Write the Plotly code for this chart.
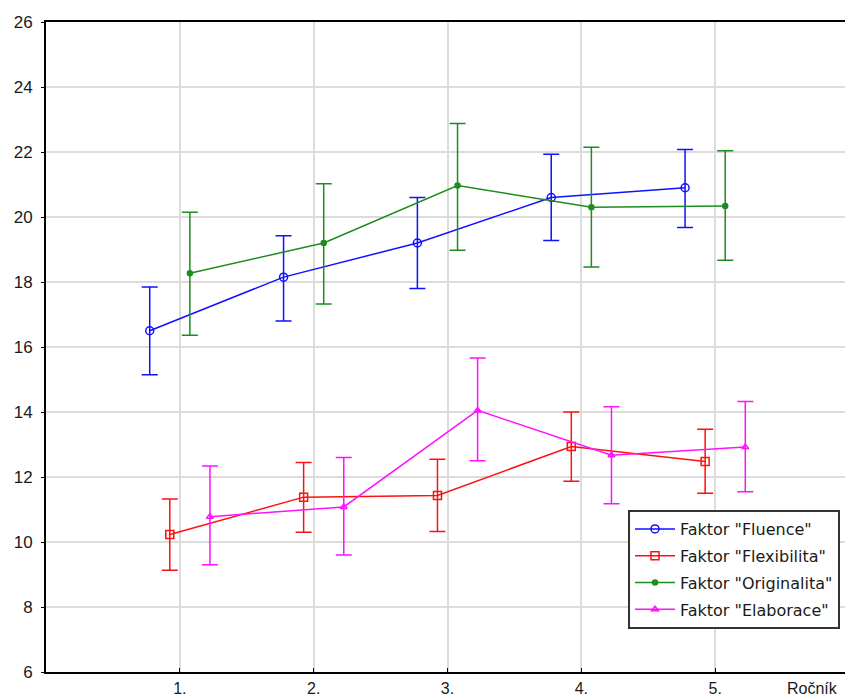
import plotly.graph_objects as go

categories = ["1.", "2.", "3.", "4.", "5."]
series_names = ['Faktor "Fluence"', 'Faktor "Flexibilita"', 'Faktor "Originalita"', 'Faktor "Elaborace"']

fluence_mean = [16.5, 18.15, 19.2, 20.6, 20.9]
fluence_hi = [17.85, 19.42, 20.6, 21.93, 22.08]
fluence_lo = [15.15, 16.8, 17.8, 19.28, 19.68]

flex_mean = [10.23, 11.38, 11.43, 12.94, 12.48]
flex_hi = [11.32, 12.45, 12.55, 14.0, 13.47]
flex_lo = [9.13, 10.3, 10.32, 11.87, 11.5]

orig_mean = [18.27, 19.2, 20.97, 20.3, 20.34]
orig_hi = [20.15, 21.02, 22.88, 22.15, 22.04]
orig_lo = [16.36, 17.32, 18.98, 18.46, 18.67]

elab_mean = [10.78, 11.08, 14.05, 12.67, 12.92]
elab_hi = [12.34, 12.6, 15.66, 14.16, 14.32]
elab_lo = [9.3, 9.6, 12.5, 11.18, 11.55]

means = [fluence_mean, flex_mean, orig_mean, elab_mean]
his = [fluence_hi, flex_hi, orig_hi, elab_hi]
los = [fluence_lo, flex_lo, orig_lo, elab_lo]
colors = ["#1010ff", "#ff1010", "#1f8c1f", "#ff10ff"]
symbols = ["circle-open", "square-open", "circle", "triangle-up-open"]
msizes = [8, 8, 5, 6]
offsets = [-0.225, -0.075, 0.075, 0.225]

fig = go.Figure()
for i in range(4):
    xs = [k + 1 + offsets[i] for k in range(len(categories))]
    m = means[i]
    fig.add_trace(go.Scatter(
        x=xs, y=m, name=series_names[i], legendgroup=str(i),
        mode="lines+markers",
        line=dict(color=colors[i], width=1.5),
        marker=dict(symbol=symbols[i], size=msizes[i], color=colors[i],
                    line=dict(color=colors[i], width=1.5)),
        error_y=dict(type="data", symmetric=False,
                     array=[h - v for h, v in zip(his[i], m)],
                     arrayminus=[v - l for l, v in zip(los[i], m)],
                     color=colors[i], thickness=1.5, width=8),
    ))

fig.update_layout(
    width=845, height=700,
    margin=dict(l=46, r=0, t=22, b=28, autoexpand=False),
    paper_bgcolor="white", plot_bgcolor="white",
    font=dict(family="Liberation Sans, Arial, sans-serif", size=16, color="#1a1a1a"),
    showlegend=True,
    legend=dict(x=(628 - 46) / 799, y=(672 - 510) / 650, xanchor="left", yanchor="top",
                bordercolor="#333333", borderwidth=2, bgcolor="white",
                font=dict(family="DejaVu Sans, sans-serif", size=16, color="#1a1a1a"),
                tracegroupgap=3, itemwidth=40),
)
fig.add_annotation(text="Ročník", xref="paper", yref="paper", x=(812 - 46) / 799, y=0,
                   xanchor="center", yanchor="middle", yshift=-16, showarrow=False,
                   font=dict(size=16))

fig.update_xaxes(range=[0, 5.97], tickvals=[1, 2, 3, 4, 5], ticktext=categories,
                 tickfont=dict(size=16), ticklabelstandoff=1, automargin=False,
                 showgrid=True, gridcolor="#dcdcdc", gridwidth=1.5,
                 showline=True, linecolor="black", linewidth=2, mirror=True,
                 ticks="inside", ticklen=4, tickcolor="black", zeroline=False)
fig.update_yaxes(range=[6, 26], dtick=2, tickfont=dict(size=17), ticklabelstandoff=5,
                 automargin=False,
                 showgrid=True, gridcolor="#dcdcdc", gridwidth=1.5,
                 showline=True, linecolor="black", linewidth=2,
                 ticks="outside", ticklen=3, tickcolor="black", zeroline=False)

fig.write_html("out.html")
